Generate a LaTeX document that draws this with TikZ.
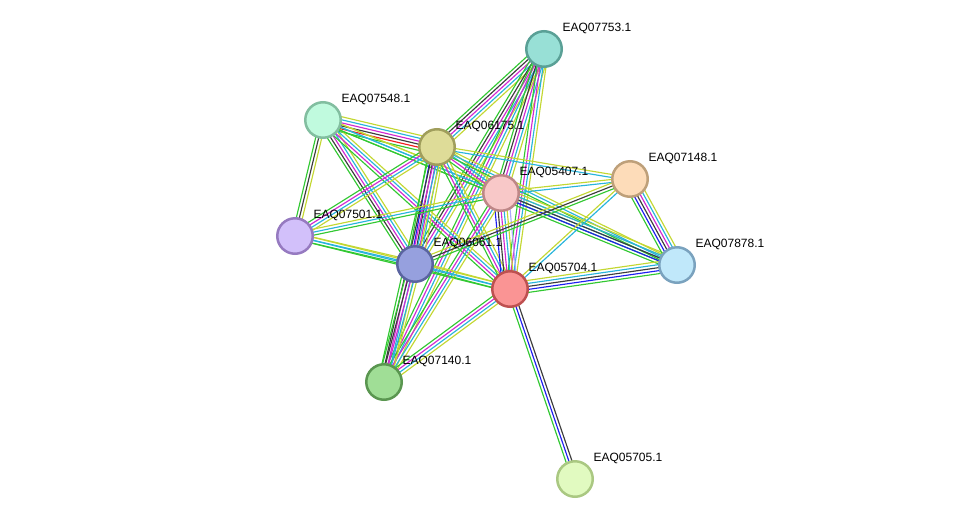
\documentclass[tikz,border=0pt]{standalone}
\usepackage{fontspec}
\setmainfont{Liberation Sans}
\usetikzlibrary{calc,backgrounds}

\definecolor{sgreen}{RGB}{50,200,50}
\definecolor{sred}{RGB}{240,30,30}
\definecolor{sblue}{RGB}{30,30,240}
\definecolor{sdark}{RGB}{60,60,60}
\definecolor{smag}{RGB}{210,40,210}
\definecolor{scyan}{RGB}{40,180,220}
\definecolor{sylw}{RGB}{195,215,50}
\definecolor{shom}{RGB}{170,170,250}

% node fills and rims
\definecolor{f07753}{RGB}{152,224,214} \definecolor{d07753}{RGB}{90,160,150}
\definecolor{f07548}{RGB}{192,250,222} \definecolor{d07548}{RGB}{130,190,160}
\definecolor{f06175}{RGB}{222,220,152} \definecolor{d06175}{RGB}{160,158,92}
\definecolor{f05407}{RGB}{248,200,200} \definecolor{d05407}{RGB}{190,135,135}
\definecolor{f07148}{RGB}{253,220,185} \definecolor{d07148}{RGB}{190,160,122}
\definecolor{f07501}{RGB}{210,192,250} \definecolor{d07501}{RGB}{150,122,192}
\definecolor{f06061}{RGB}{150,160,222} \definecolor{d06061}{RGB}{90,100,160}
\definecolor{f05704}{RGB}{250,148,148} \definecolor{d05704}{RGB}{190,80,80}
\definecolor{f07878}{RGB}{192,232,250} \definecolor{d07878}{RGB}{122,162,190}
\definecolor{f07140}{RGB}{160,222,150} \definecolor{d07140}{RGB}{90,150,80}
\definecolor{f05705}{RGB}{225,250,192} \definecolor{d05705}{RGB}{170,200,130}

% parallel coloured lines between two nodes
\newcommand{\bundle}[3]{%
  \foreach \col [count=\i] in {#3} {\xdef\nlines{\i}}
  \foreach \col [count=\i] in {#3} {
    \pgfmathsetmacro\off{(\i-(\nlines+1)/2)*3}
    \draw[\col] ($(#1)!\off pt!90:(#2)$) -- ($(#2)!\off pt!-90:(#1)$);
  }}

\begin{document}
\begin{tikzpicture}[
    x=1pt, y=-1pt,
    prot/.style={circle, fill=f#1, draw=d#1, line width=2.5pt,
      minimum size=35.5pt, inner sep=0pt},
    lab/.style={anchor=west, inner sep=0pt, font=\fontsize{12}{14}\selectfont},
    every path/.style={line width=1.15pt},
  ]
  \useasboundingbox (0,0) rectangle (976,525);

  \node[prot=07753] (n07753) at (544,49)  {};
  \node[prot=07548] (n07548) at (323,120) {};
  \node[prot=06175] (n06175) at (437,147) {};
  \node[prot=05407] (n05407) at (501,193) {};
  \node[prot=07148] (n07148) at (630,179) {};
  \node[prot=07501] (n07501) at (295,236) {};
  \node[prot=06061] (n06061) at (415,264) {};
  \node[prot=05704] (n05704) at (510,289) {};
  \node[prot=07878] (n07878) at (677,265) {};
  \node[prot=07140] (n07140) at (384,382) {};
  \node[prot=05705] (n05705) at (575,479) {};

  \node[lab] (t07753) at ([shift={(18,-21)}]n07753) {EAQ07753.1};
  \node[lab] (t07548) at ([shift={(18,-21)}]n07548) {EAQ07548.1};
  \node[lab] (t06175) at ([shift={(18,-21)}]n06175) {EAQ06175.1};
  \node[lab] (t05407) at ([shift={(18,-21)}]n05407) {EAQ05407.1};
  \node[lab] (t07148) at ([shift={(18,-21)}]n07148) {EAQ07148.1};
  \node[lab] (t07501) at ([shift={(18,-21)}]n07501) {EAQ07501.1};
  \node[lab] (t06061) at ([shift={(18,-21)}]n06061) {EAQ06061.1};
  \node[lab] (t05704) at ([shift={(18,-21)}]n05704) {EAQ05704.1};
  \node[lab] (t07878) at ([shift={(18,-21)}]n07878) {EAQ07878.1};
  \node[lab] (t07140) at ([shift={(18,-21)}]n07140) {EAQ07140.1};
  \node[lab] (t05705) at ([shift={(18,-21)}]n05705) {EAQ05705.1};

  \begin{pgfonlayer}{background}
    \bundle{n07753}{n06175}{sgreen,sdark,smag,scyan,sylw}
    \bundle{n07753}{n06061}{sgreen,sdark,smag,scyan,sylw}
    \bundle{n07753}{n07140}{sgreen,smag,scyan,sylw}
    \bundle{n07753}{n05407}{sgreen,sdark,smag,scyan,sylw}
    \bundle{n07753}{n05704}{sgreen,smag,scyan,sylw}
    \bundle{n07548}{n06175}{sgreen,sred,sdark,smag,scyan,sylw}
    \bundle{n07548}{n07501}{sgreen,sdark,sylw}
    \bundle{n07548}{n06061}{sgreen,sdark,smag,scyan,sylw}
    \bundle{n07548}{n05704}{sgreen,smag,scyan,sylw}
    \bundle{n07548}{n05407}{sgreen,scyan,sylw}
    \bundle{n07548}{n07878}{sgreen,scyan,sylw}
    \bundle{n06175}{n06061}{sgreen,sblue,sdark,smag,scyan,sylw}
    \bundle{n06175}{n07140}{sgreen,sdark,smag,scyan,sylw}
    \bundle{n06175}{n05704}{sgreen,smag,scyan,sylw}
    \bundle{n06175}{n05407}{sgreen,smag,scyan,sylw}
    \bundle{n06175}{n07148}{scyan,sylw}
    \bundle{n06175}{n07878}{sgreen,scyan,sylw}
    \bundle{n06175}{n07501}{sgreen,smag,scyan,sylw}
    \bundle{n07501}{n05407}{sgreen,scyan,sylw}
    \bundle{n07501}{n06061}{sgreen,scyan,sylw}
    \bundle{n07501}{n05704}{sgreen,scyan,sylw}
    \bundle{n05407}{n05704}{sblue,sdark,smag,scyan,sylw,shom}
    \bundle{n05407}{n07878}{sgreen,sblue,sdark,scyan,sylw}
    \bundle{n05407}{n07148}{scyan,sylw}
    \bundle{n05407}{n07140}{sgreen,smag,scyan,sylw}
    \bundle{n06061}{n05704}{sgreen,scyan,sylw}
    \bundle{n06061}{n07140}{sgreen,sdark,smag,scyan,sylw}
    \bundle{n06061}{n07148}{sgreen,sdark,sylw}
    \bundle{n05704}{n07878}{sgreen,sblue,sdark,scyan,sylw}
    \bundle{n05704}{n07148}{scyan,sylw}
    \bundle{n05704}{n07140}{sgreen,smag,scyan,sylw}
    \bundle{n05704}{n05705}{sgreen,sblue,sdark}
    \bundle{n07148}{n07878}{sgreen,sblue,sdark,smag,scyan,sylw}
  \end{pgfonlayer}
\end{tikzpicture}
\end{document}
